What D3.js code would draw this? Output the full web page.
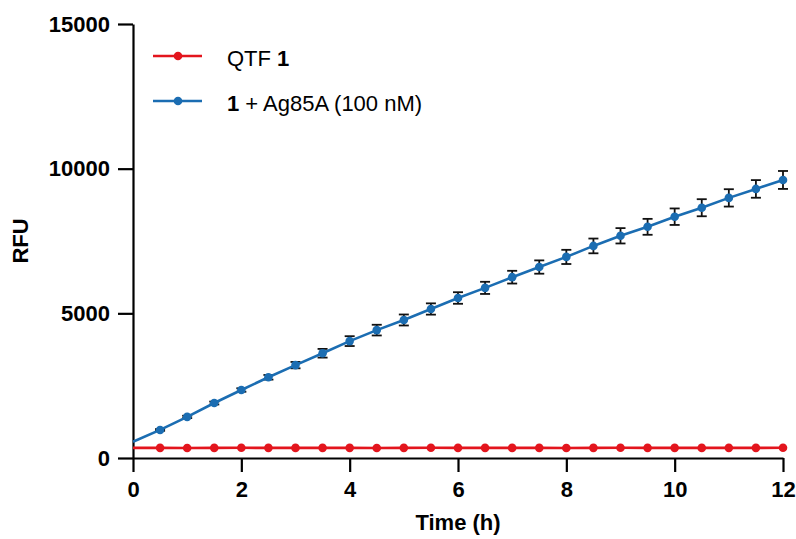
<!DOCTYPE html>
<html>
<head>
<meta charset="utf-8">
<script src="https://cdn.jsdelivr.net/npm/d3@7"></script>
<style>
  body { margin: 0; background: #fff; }
  svg { font-family: "Liberation Sans", Arial, sans-serif; }
</style>
</head>
<body>
<div class="chart"></div>
<script>
// time points (h)
var times = [0, 0.5, 1, 1.5, 2, 2.5, 3, 3.5, 4, 4.5, 5, 5.5, 6, 6.5, 7, 7.5, 8, 8.5, 9, 9.5, 10, 10.5, 11, 11.5, 12];

// QTF 1 alone
var qtfValues = [350, 350, 348, 350, 352, 350, 349, 351, 350, 348, 350, 352, 350, 351, 349, 350, 348, 350, 352, 351, 350, 349, 351, 350, 352];

// 1 + Ag85A (100 nM)
var enzValues = [560, 970, 1420, 1900, 2350, 2790, 3210, 3620, 4040, 4420, 4770, 5150, 5530, 5880, 6250, 6600, 6950, 7330, 7680, 7990, 8340, 8650, 8990, 9300, 9610];
var enzErrors = [0, 30, 40, 50, 60, 80, 110, 150, 170, 185, 190, 195, 200, 210, 220, 230, 245, 255, 265, 275, 285, 295, 300, 305, 310];

var xTicks = [0, 2, 4, 6, 8, 10, 12];
var yTicks = [0, 5000, 10000, 15000];

var svgWidth = 796;
var svgHeight = 539;

var margin = { top: 24, right: 13, bottom: 81, left: 133 };
var width = svgWidth - margin.left - margin.right;
var height = svgHeight - margin.top - margin.bottom;

var svg = d3.select(".chart")
    .append("svg")
    .attr("width", svgWidth)
    .attr("height", svgHeight);

var chartGroup = svg.append("g")
    .attr("transform", `translate(${margin.left}, ${margin.top})`);

var xScale = d3.scaleLinear().domain([0, 12]).range([0, width]);
var yScale = d3.scaleLinear().domain([0, 15000]).range([height, 0]);

// axes
var xAxis = d3.axisBottom(xScale).tickValues(xTicks).tickFormat(d3.format("d"))
    .tickSize(14).tickSizeOuter(0).tickPadding(9);
var yAxis = d3.axisLeft(yScale).tickValues(yTicks).tickFormat(d3.format("d"))
    .tickSize(15).tickSizeOuter(0).tickPadding(8);

var xG = chartGroup.append("g")
    .attr("transform", `translate(0, ${height})`)
    .call(xAxis);
var yG = chartGroup.append("g").call(yAxis);

[xG, yG].forEach(function(g) {
    g.selectAll("path, line").attr("stroke", "#000").attr("stroke-width", 2.2);
    g.selectAll("text")
        .attr("fill", "#000")
        .style("font-size", "22px")
        .style("font-weight", "bold")
        .style("font-family", "'Liberation Sans', Arial, sans-serif");
});

// axis titles
svg.append("text")
    .attr("x", margin.left + width / 2)
    .attr("y", 530)
    .attr("text-anchor", "middle")
    .style("font-size", "22px")
    .style("font-weight", "bold")
    .text("Time (h)");

svg.append("text")
    .attr("transform", `translate(28, ${margin.top + height / 2}) rotate(-90)`)
    .attr("text-anchor", "middle")
    .style("font-size", "22px")
    .style("font-weight", "bold")
    .text("RFU");

var red = "#e3151d";
var blue = "#1b6db2";

var line = d3.line()
    .x(d => xScale(d.t))
    .y(d => yScale(d.v));

var qtfData = times.map((t, i) => ({ t: t, v: qtfValues[i] }));
var enzData = times.map((t, i) => ({ t: t, v: enzValues[i], e: enzErrors[i] }));

// error bars for the enzyme series
var errG = chartGroup.append("g");
var errData = enzData.filter(d => d.t > 0);
errG.selectAll(".ebar")
    .data(errData)
    .enter()
    .append("line")
    .attr("x1", d => xScale(d.t))
    .attr("x2", d => xScale(d.t))
    .attr("y1", d => yScale(d.v - d.e))
    .attr("y2", d => yScale(d.v + d.e))
    .attr("stroke", "#111")
    .attr("stroke-width", 1.8);
[1, -1].forEach(function(s) {
    errG.selectAll(".cap" + s)
        .data(errData)
        .enter()
        .append("line")
        .attr("x1", d => xScale(d.t) - 5)
        .attr("x2", d => xScale(d.t) + 5)
        .attr("y1", d => yScale(d.v + s * d.e))
        .attr("y2", d => yScale(d.v + s * d.e))
        .attr("stroke", "#111")
        .attr("stroke-width", 1.8);
});

// series lines + markers
function drawSeries(data, color) {
    chartGroup.append("path")
        .datum(data)
        .attr("fill", "none")
        .attr("stroke", color)
        .attr("stroke-width", 2.6)
        .attr("d", line);
    chartGroup.selectAll(null)
        .data(data.filter(d => d.t > 0))
        .enter()
        .append("circle")
        .attr("cx", d => xScale(d.t))
        .attr("cy", d => yScale(d.v))
        .attr("r", 4.3)
        .attr("fill", color);
}
drawSeries(qtfData, red);
drawSeries(enzData, blue);

// legend
var legend = [
    { color: red, y: 56, parts: [["QTF ", "normal"], ["1", "bold"]] },
    { color: blue, y: 101, parts: [["1", "bold"], [" + Ag85A (100 nM)", "normal"]] }
];
legend.forEach(function(item) {
    svg.append("line")
        .attr("x1", 153).attr("x2", 202)
        .attr("y1", item.y).attr("y2", item.y)
        .attr("stroke", item.color)
        .attr("stroke-width", 2.6);
    svg.append("circle")
        .attr("cx", 178).attr("cy", item.y).attr("r", 4.3)
        .attr("fill", item.color);
    var txt = svg.append("text")
        .attr("x", 227)
        .attr("y", item.y + 10)
        .style("font-size", "22px");
    item.parts.forEach(function(p) {
        txt.append("tspan").style("font-weight", p[1]).text(p[0]);
    });
});
</script>
</body>
</html>
